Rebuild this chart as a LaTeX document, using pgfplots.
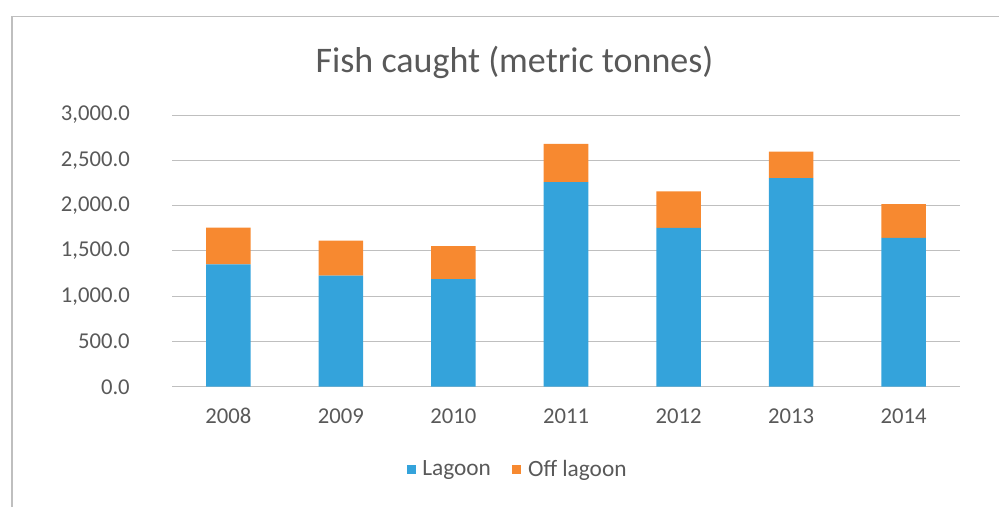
\documentclass[border=0pt]{standalone}
\usepackage{pgfplots}
\pgfplotsset{compat=1.18}
\usepackage{fontspec}
\setmainfont{Carlito}
\definecolor{lagoon}{RGB}{52,163,219}
\definecolor{offlag}{RGB}{247,137,48}
\definecolor{txt}{RGB}{89,89,89}
\definecolor{grid}{RGB}{217,217,217}
\definecolor{frame}{RGB}{191,191,191}
\begin{document}
\begin{tikzpicture}
\path[use as bounding box] (0,0) rectangle (749.25pt,380.25pt);
\draw[frame, line width=0.9pt] (9pt,0) -- (9pt,367.9pt) -- (749.25pt,367.9pt);
\node[txt, font=\fontsize{27}{32}\selectfont] at (385.9pt,333.2pt) {Fish caught (metric tonnes)};
\begin{axis}[
  at={(129pt,90.2pt)}, anchor=south west,
  scale only axis, width=591pt, height=203.8pt,
  ybar stacked, bar width=33.4pt,
  xmin=-0.5, xmax=6.5, ymin=0, ymax=3000,
  xtick=data, xticklabels={2008,2009,2010,2011,2012,2013,2014},
  ytick={0,500,...,3000},
  xmajorgrids=false, ymajorgrids=true,
  grid style={grid, line width=0.75pt},
  axis line style={draw=none},
  tick style={draw=none},
  major tick length=0pt,
  /pgf/number format/assume math mode=true,
  ticklabel style={txt, font=\fontsize{17}{20}\selectfont},
  yticklabel style={/pgf/number format/fixed, /pgf/number format/fixed zerofill,
    /pgf/number format/precision=1, /pgf/number format/1000 sep={,},
    anchor=east, inner sep=0pt, xshift=-31.5pt},
  xticklabel style={anchor=center, inner sep=0pt, yshift=-22pt},
  legend columns=2,
  legend style={at={(0.439,-0.303)}, anchor=center, draw=none, fill=none,
    font=\fontsize{17.5}{21}\selectfont, text=txt,
    /tikz/every odd column/.append style={column sep=3pt},
    /tikz/every even column/.append style={column sep=14pt}},
  legend image code/.code={\fill[#1,draw=none] (0pt,-3.4pt) rectangle (6.8pt,3.4pt);},
]
\addplot[fill=lagoon, draw=none] coordinates {(0,1351) (1,1226) (2,1189) (3,2258) (4,1754) (5,2302) (6,1643)};
\addplot[fill=offlag, draw=none] coordinates {(0,405) (1,386) (2,364) (3,422) (4,404) (5,295) (6,372)};
\legend{Lagoon, Off lagoon}
\end{axis}
\end{tikzpicture}
\end{document}
